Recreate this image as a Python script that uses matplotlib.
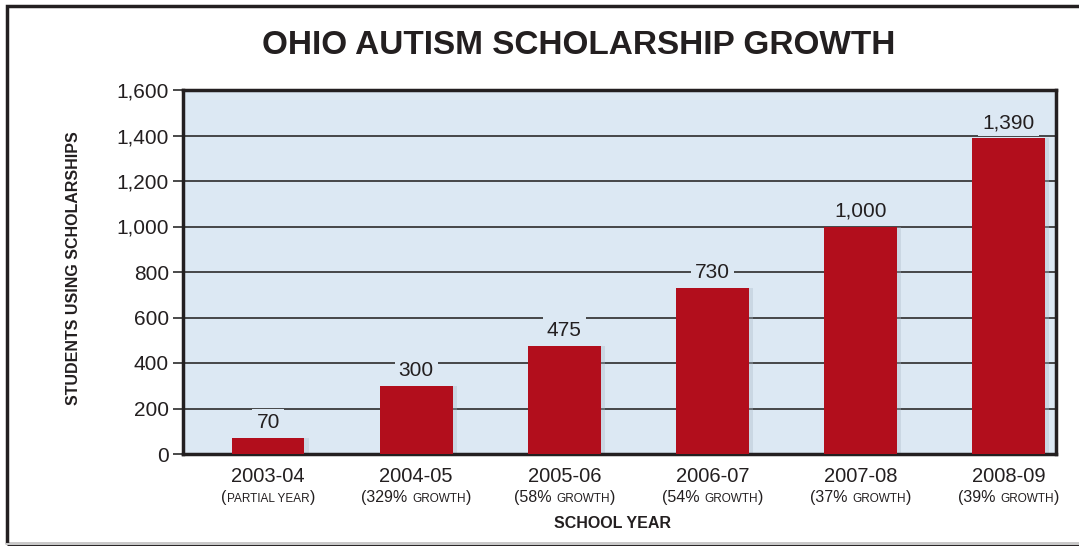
import matplotlib.pyplot as plt
from matplotlib.offsetbox import TextArea, HPacker, AnnotationBbox
from matplotlib.patches import Rectangle
from matplotlib.ticker import FuncFormatter

years = ['2003-04', '2004-05', '2005-06', '2006-07', '2007-08', '2008-09']
students = [70, 300, 475, 730, 1000, 1390]
notes_pre = ['(', '(329% ', '(58% ', '(54% ', '(37% ', '(39% ']
notes_caps = ['PARTIAL YEAR', 'GROWTH', 'GROWTH', 'GROWTH', 'GROWTH', 'GROWTH']

plt.rcParams['font.family'] = ['Liberation Sans', 'DejaVu Sans']

bar_red = '#b20e1c'
panel = '#dce8f3'
ink = '#231f20'

fig = plt.figure(figsize=(10.79, 5.46), dpi=100)
ax = fig.add_axes([183 / 1079, 1 - 454 / 546, (1056 - 183) / 1079, (454 - 90) / 546])
ax.set_facecolor(panel)

x = list(range(len(years)))
# soft shadow behind the bars
ax.bar([i + 0.03 for i in x], students, width=0.49, color='#a9b8c6', alpha=0.35,
       zorder=2, linewidth=0)
ax.bar(x, students, width=0.49, color=bar_red, zorder=3, linewidth=0)

for i, v in enumerate(students):
    ax.text(i, v + 25, '{:,}'.format(v), ha='center', va='bottom', fontsize=15,
            color=ink, zorder=4,
            bbox=dict(facecolor=panel, edgecolor='none', pad=3))

ax.set_xlim(-0.575, 5.32)
ax.set_ylim(0, 1600)
ax.set_yticks(range(0, 1601, 200))
ax.yaxis.set_major_formatter(FuncFormatter(lambda v, p: '{:,}'.format(int(v))))
ax.grid(axis='y', color='#3a3a3a', linewidth=1.3, zorder=1)
ax.set_axisbelow(True)
ax.tick_params(axis='y', length=7, width=1.3, color='#3a3a3a', labelsize=15,
               labelcolor=ink, pad=3)
ax.tick_params(axis='x', length=0, labelbottom=False)
for s in ax.spines.values():
    s.set_color(ink)
    s.set_linewidth(2.5)

# two-line x labels, second line in small caps style
for i in x:
    ax.text(i, -0.035, years[i], transform=ax.get_xaxis_transform(), ha='center',
            va='top', fontsize=14.5, color=ink)
    box = HPacker(children=[
        TextArea(notes_pre[i], textprops=dict(fontsize=11.5, color=ink)),
        TextArea(notes_caps[i], textprops=dict(fontsize=8.5, color=ink)),
        TextArea(')', textprops=dict(fontsize=11.5, color=ink)),
    ], align='baseline', pad=0, sep=0)
    ab = AnnotationBbox(box, (i, -0.098), xycoords=ax.get_xaxis_transform(),
                        box_alignment=(0.5, 1.0), frameon=False, pad=0,
                        annotation_clip=False)
    ax.add_artist(ab)

fig.text(613 / 1079, 1 - 523 / 546, 'SCHOOL YEAR', ha='center', va='center',
         fontsize=11.5, fontweight='bold', color=ink)
fig.text(74 / 1079, 1 - 268 / 546, 'STUDENTS USING SCHOLARSHIPS', ha='center',
         va='center', rotation=90, fontsize=11.5, fontweight='bold', color=ink)
fig.text(579 / 1079, 1 - 46 / 546, 'OHIO AUTISM SCHOLARSHIP GROWTH', ha='center',
         va='center', fontsize=24, fontweight='bold', color=ink)

# frame around the whole graphic
fig.add_artist(Rectangle((7 / 1079, 1 - 544 / 546), 1.1, 538 / 546,
                         transform=fig.transFigure, fill=False, edgecolor=ink,
                         linewidth=2.5))
fig.add_artist(plt.Line2D([7 / 1079, 1], [1 - 544 / 546] * 2, transform=fig.transFigure,
                          color='#c8c8c8', linewidth=1.5))

fig.savefig('out.png', dpi=100)
